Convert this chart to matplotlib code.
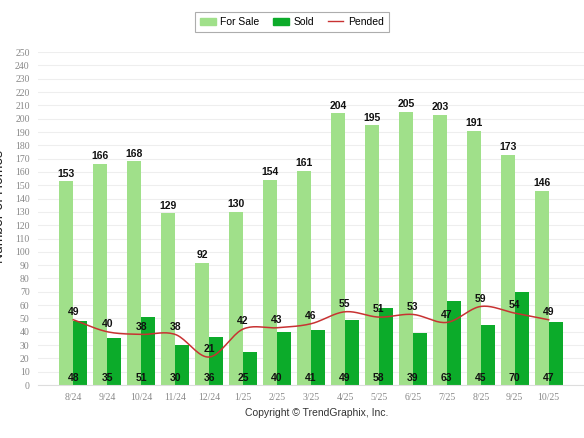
import numpy as np
import matplotlib
matplotlib.use("Agg")
import matplotlib.pyplot as plt
from matplotlib.patches import Patch
from matplotlib.lines import Line2D

# data
months = ["8/24", "9/24", "10/24", "11/24", "12/24", "1/25", "2/25", "3/25",
          "4/25", "5/25", "6/25", "7/25", "8/25", "9/25", "10/25"]
for_sale = [153, 166, 168, 129, 92, 130, 154, 161, 204, 195, 205, 203, 191, 173, 146]
sold = [48, 35, 51, 30, 36, 25, 40, 41, 49, 58, 39, 63, 45, 70, 47]
pended = [49, 40, 38, 38, 21, 42, 43, 46, 55, 51, 53, 47, 59, 54, 49]

c_sale = "#a0e08a"
c_sold = "#0cab2a"
c_pend = "#c83232"


def smooth(xs, ys, n=20):
    # catmull-rom curve through the points, only for drawing the line
    xs = np.asarray(xs, float)
    ys = np.asarray(ys, float)
    m = np.gradient(ys, xs)
    out_x, out_y = [], []
    for i in range(len(xs) - 1):
        t = np.linspace(0, 1, n, endpoint=False)
        h = xs[i + 1] - xs[i]
        h00 = 2 * t**3 - 3 * t**2 + 1
        h10 = t**3 - 2 * t**2 + t
        h01 = -2 * t**3 + 3 * t**2
        h11 = t**3 - t**2
        out_x.extend(xs[i] + t * h)
        out_y.extend(h00 * ys[i] + h10 * h * m[i] + h01 * ys[i + 1] + h11 * h * m[i + 1])
    out_x.append(xs[-1])
    out_y.append(ys[-1])
    return out_x, out_y


fig = plt.figure(figsize=(5.84, 4.38), dpi=100)
ax = fig.add_axes([0.065, 0.121, 0.935, 0.76])

x = np.arange(len(months))
w = 0.41
ax.bar(x - w / 2, for_sale, w, color=c_sale, zorder=2)
ax.bar(x + w / 2, sold, w, color=c_sold, zorder=2)
sx, sy = smooth(x, pended)
ax.plot(sx, sy, color=c_pend, lw=1.1, zorder=3)

lab = dict(fontsize=7.5, fontweight="bold", family="Liberation Sans", color="#111111",
           ha="center", zorder=4)
for i in range(len(months)):
    ax.text(x[i] - w / 2, for_sale[i] + 2, str(for_sale[i]), va="bottom", **lab)
    ax.text(x[i], 1.5, str(sold[i]), va="bottom", **lab)
    ax.text(x[i], pended[i] + 2, str(pended[i]), va="bottom", **lab)

ax.set_xlim(-1.04, 15.04)
ax.set_ylim(0, 250)
ax.set_yticks(range(0, 251, 10))
ax.set_xticks(x)
ax.set_xticklabels(months)
ax.tick_params(axis="both", length=0, labelsize=7, labelcolor="#888888", pad=6)
for t in ax.get_xticklabels() + ax.get_yticklabels():
    t.set_family("Liberation Serif")
ax.grid(axis="y", color="#eeeeee", lw=0.8, zorder=0)
for s in ["top", "right", "left"]:
    ax.spines[s].set_visible(False)
ax.spines["bottom"].set_color("#dddddd")

ax.set_ylabel("Number of Homes", fontsize=10, family="Liberation Sans", color="#222222")
ax.yaxis.set_label_coords(-0.058, 0.537)

handles = [Patch(color=c_sale, label="For Sale"),
           Patch(color=c_sold, label="Sold"),
           Line2D([0], [0], color=c_pend, lw=1, label="Pended")]
leg = fig.legend(handles=handles, loc="center", bbox_to_anchor=(0.5, 0.95), ncol=3,
                 fancybox=False, frameon=True, prop={"family": "Liberation Sans", "size": 7.5},
                 handlelength=1.5, handleheight=0.6, handletextpad=0.45,
                 columnspacing=1.3, borderpad=0.45, borderaxespad=0)
leg.get_frame().set_edgecolor("#999999")
leg.get_frame().set_linewidth(0.8)

fig.text(0.543, 0.057, "Copyright \u00a9 TrendGraphix, Inc.", ha="center", va="center",
         fontsize=7.5, family="Liberation Sans", color="#333333")

fig.savefig("out.png", dpi=100)
